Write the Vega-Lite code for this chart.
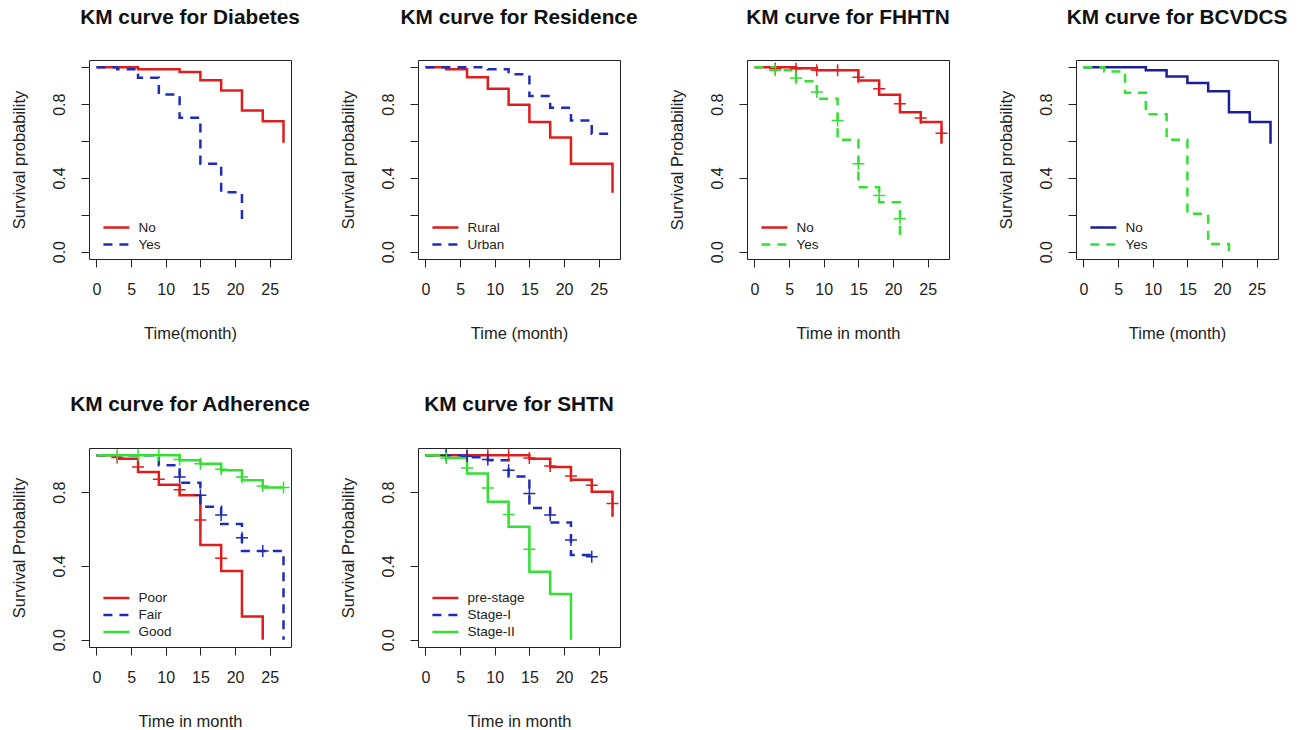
{
  "$schema": "https://vega.github.io/schema/vega-lite/v6.json",
  "background": "white",
  "padding": {"left": 11, "top": 6, "right": 5, "bottom": 3},
  "bounds": "flush",
  "columns": 4,
  "spacing": {"row": 189, "column": 127},
  "resolve": {
    "scale": {"x": "independent", "y": "independent", "color": "independent", "strokeDash": "independent", "stroke": "independent"},
    "legend": {"color": "independent", "strokeDash": "independent", "stroke": "independent"}
  },
  "config": {
    "view": {"stroke": "#222", "strokeWidth": 1},
    "font": "Liberation Sans",
    "title": {"font": "Liberation Sans", "fontSize": 20.8, "fontWeight": "bold", "anchor": "middle", "color": "#111", "frame": "group", "baseline": "alphabetic", "offset": 31},
    "axis": {"domain": false, "grid": false, "ticks": true, "tickSize": 8, "tickColor": "#222", "tickWidth": 1, "labelFont": "Liberation Sans", "labelFontSize": 16, "labelColor": "#222", "titleFont": "Liberation Sans", "titleFontSize": 16.5, "titleFontWeight": "normal", "titleColor": "#222"},
    "axisX": {"labelPadding": 14, "titlePadding": 28, "labelAngle": 0},
    "axisY": {"labelAngle": -90, "labelAlign": "center", "labelBaseline": "bottom", "labelPadding": 13.3, "titlePadding": 24},
    "legend": {"orient": "none", "legendX": 19.4, "padding": 0, "symbolType": "M-2,0H2", "symbolSize": 169, "symbolStrokeWidth": 2.5, "labelFont": "Liberation Sans", "labelFontSize": 13.5, "labelColor": "#222", "labelOffset": 14, "rowPadding": 2, "title": null}
  },
  "datasets": {
    "km": [
      {"p": "Diabetes", "g": "No", "t": 0, "s": 1},
      {"p": "Diabetes", "g": "No", "t": 6, "s": 0.99},
      {"p": "Diabetes", "g": "No", "t": 12, "s": 0.975},
      {"p": "Diabetes", "g": "No", "t": 15, "s": 0.93},
      {"p": "Diabetes", "g": "No", "t": 18, "s": 0.875},
      {"p": "Diabetes", "g": "No", "t": 21, "s": 0.766},
      {"p": "Diabetes", "g": "No", "t": 24, "s": 0.708},
      {"p": "Diabetes", "g": "No", "t": 27, "s": 0.591},
      {"p": "Diabetes", "g": "Yes", "t": 0, "s": 1},
      {"p": "Diabetes", "g": "Yes", "t": 3, "s": 0.99},
      {"p": "Diabetes", "g": "Yes", "t": 6, "s": 0.944},
      {"p": "Diabetes", "g": "Yes", "t": 9, "s": 0.853},
      {"p": "Diabetes", "g": "Yes", "t": 12, "s": 0.727},
      {"p": "Diabetes", "g": "Yes", "t": 15, "s": 0.477},
      {"p": "Diabetes", "g": "Yes", "t": 18, "s": 0.322},
      {"p": "Diabetes", "g": "Yes", "t": 21, "s": 0.159},
      {"p": "Residence", "g": "Rural", "t": 0, "s": 1},
      {"p": "Residence", "g": "Rural", "t": 3, "s": 0.99},
      {"p": "Residence", "g": "Rural", "t": 6, "s": 0.947},
      {"p": "Residence", "g": "Rural", "t": 9, "s": 0.884},
      {"p": "Residence", "g": "Rural", "t": 12, "s": 0.797},
      {"p": "Residence", "g": "Rural", "t": 15, "s": 0.703},
      {"p": "Residence", "g": "Rural", "t": 18, "s": 0.62},
      {"p": "Residence", "g": "Rural", "t": 21, "s": 0.477},
      {"p": "Residence", "g": "Rural", "t": 27, "s": 0.319},
      {"p": "Residence", "g": "Urban", "t": 0, "s": 1},
      {"p": "Residence", "g": "Urban", "t": 9, "s": 0.99},
      {"p": "Residence", "g": "Urban", "t": 12, "s": 0.962},
      {"p": "Residence", "g": "Urban", "t": 15, "s": 0.844},
      {"p": "Residence", "g": "Urban", "t": 18, "s": 0.781},
      {"p": "Residence", "g": "Urban", "t": 21, "s": 0.712},
      {"p": "Residence", "g": "Urban", "t": 24, "s": 0.64},
      {"p": "Residence", "g": "Urban", "t": 27, "s": 0.64},
      {"p": "FHHTN", "g": "No", "t": 0, "s": 1},
      {"p": "FHHTN", "g": "No", "t": 6, "s": 0.995},
      {"p": "FHHTN", "g": "No", "t": 9, "s": 0.984},
      {"p": "FHHTN", "g": "No", "t": 15, "s": 0.929},
      {"p": "FHHTN", "g": "No", "t": 18, "s": 0.851},
      {"p": "FHHTN", "g": "No", "t": 21, "s": 0.757},
      {"p": "FHHTN", "g": "No", "t": 24, "s": 0.703},
      {"p": "FHHTN", "g": "No", "t": 27, "s": 0.585},
      {"p": "FHHTN", "g": "Yes", "t": 0, "s": 1},
      {"p": "FHHTN", "g": "Yes", "t": 3, "s": 0.984},
      {"p": "FHHTN", "g": "Yes", "t": 6, "s": 0.924},
      {"p": "FHHTN", "g": "Yes", "t": 9, "s": 0.83},
      {"p": "FHHTN", "g": "Yes", "t": 12, "s": 0.607},
      {"p": "FHHTN", "g": "Yes", "t": 15, "s": 0.35},
      {"p": "FHHTN", "g": "Yes", "t": 18, "s": 0.268},
      {"p": "FHHTN", "g": "Yes", "t": 21, "s": 0.087},
      {"p": "BCVDCS", "g": "No", "t": 0, "s": 1},
      {"p": "BCVDCS", "g": "No", "t": 9, "s": 0.984},
      {"p": "BCVDCS", "g": "No", "t": 12, "s": 0.951},
      {"p": "BCVDCS", "g": "No", "t": 15, "s": 0.915},
      {"p": "BCVDCS", "g": "No", "t": 18, "s": 0.87},
      {"p": "BCVDCS", "g": "No", "t": 21, "s": 0.757},
      {"p": "BCVDCS", "g": "No", "t": 24, "s": 0.703},
      {"p": "BCVDCS", "g": "No", "t": 27, "s": 0.585},
      {"p": "BCVDCS", "g": "Yes", "t": 0, "s": 1},
      {"p": "BCVDCS", "g": "Yes", "t": 3, "s": 0.978},
      {"p": "BCVDCS", "g": "Yes", "t": 6, "s": 0.862},
      {"p": "BCVDCS", "g": "Yes", "t": 9, "s": 0.745},
      {"p": "BCVDCS", "g": "Yes", "t": 12, "s": 0.607},
      {"p": "BCVDCS", "g": "Yes", "t": 15, "s": 0.205},
      {"p": "BCVDCS", "g": "Yes", "t": 18, "s": 0.042},
      {"p": "BCVDCS", "g": "Yes", "t": 21, "s": 0.0},
      {"p": "Adherence", "g": "Poor", "t": 0, "s": 1},
      {"p": "Adherence", "g": "Poor", "t": 3, "s": 0.982},
      {"p": "Adherence", "g": "Poor", "t": 6, "s": 0.91},
      {"p": "Adherence", "g": "Poor", "t": 9, "s": 0.841},
      {"p": "Adherence", "g": "Poor", "t": 12, "s": 0.784},
      {"p": "Adherence", "g": "Poor", "t": 15, "s": 0.514},
      {"p": "Adherence", "g": "Poor", "t": 18, "s": 0.373},
      {"p": "Adherence", "g": "Poor", "t": 21, "s": 0.126},
      {"p": "Adherence", "g": "Poor", "t": 24, "s": 0.0},
      {"p": "Adherence", "g": "Fair", "t": 0, "s": 1},
      {"p": "Adherence", "g": "Fair", "t": 9, "s": 0.946},
      {"p": "Adherence", "g": "Fair", "t": 12, "s": 0.852},
      {"p": "Adherence", "g": "Fair", "t": 15, "s": 0.721},
      {"p": "Adherence", "g": "Fair", "t": 18, "s": 0.627},
      {"p": "Adherence", "g": "Fair", "t": 21, "s": 0.481},
      {"p": "Adherence", "g": "Fair", "t": 27, "s": 0.0},
      {"p": "Adherence", "g": "Good", "t": 0, "s": 1},
      {"p": "Adherence", "g": "Good", "t": 12, "s": 0.973},
      {"p": "Adherence", "g": "Good", "t": 15, "s": 0.955},
      {"p": "Adherence", "g": "Good", "t": 18, "s": 0.919},
      {"p": "Adherence", "g": "Good", "t": 21, "s": 0.865},
      {"p": "Adherence", "g": "Good", "t": 24, "s": 0.825},
      {"p": "Adherence", "g": "Good", "t": 27, "s": 0.825},
      {"p": "SHTN", "g": "pre-stage", "t": 0, "s": 1},
      {"p": "SHTN", "g": "pre-stage", "t": 15, "s": 0.982},
      {"p": "SHTN", "g": "pre-stage", "t": 18, "s": 0.937},
      {"p": "SHTN", "g": "pre-stage", "t": 21, "s": 0.868},
      {"p": "SHTN", "g": "pre-stage", "t": 24, "s": 0.802},
      {"p": "SHTN", "g": "pre-stage", "t": 27, "s": 0.667},
      {"p": "SHTN", "g": "Stage-I", "t": 0, "s": 1},
      {"p": "SHTN", "g": "Stage-I", "t": 6, "s": 0.99},
      {"p": "SHTN", "g": "Stage-I", "t": 9, "s": 0.973},
      {"p": "SHTN", "g": "Stage-I", "t": 12, "s": 0.886},
      {"p": "SHTN", "g": "Stage-I", "t": 15, "s": 0.715},
      {"p": "SHTN", "g": "Stage-I", "t": 18, "s": 0.636},
      {"p": "SHTN", "g": "Stage-I", "t": 21, "s": 0.459},
      {"p": "SHTN", "g": "Stage-I", "t": 24, "s": 0.459},
      {"p": "SHTN", "g": "Stage-II", "t": 0, "s": 1},
      {"p": "SHTN", "g": "Stage-II", "t": 3, "s": 0.986},
      {"p": "SHTN", "g": "Stage-II", "t": 6, "s": 0.901},
      {"p": "SHTN", "g": "Stage-II", "t": 9, "s": 0.748},
      {"p": "SHTN", "g": "Stage-II", "t": 12, "s": 0.613},
      {"p": "SHTN", "g": "Stage-II", "t": 15, "s": 0.369},
      {"p": "SHTN", "g": "Stage-II", "t": 18, "s": 0.247},
      {"p": "SHTN", "g": "Stage-II", "t": 21, "s": 0.0}
    ],
    "cens": [
      {"p": "FHHTN", "g": "No", "t": 3, "s": 0.993},
      {"p": "FHHTN", "g": "No", "t": 6, "s": 0.993},
      {"p": "FHHTN", "g": "No", "t": 9, "s": 0.984},
      {"p": "FHHTN", "g": "No", "t": 12, "s": 0.984},
      {"p": "FHHTN", "g": "No", "t": 15, "s": 0.947},
      {"p": "FHHTN", "g": "No", "t": 18, "s": 0.884},
      {"p": "FHHTN", "g": "No", "t": 21, "s": 0.803},
      {"p": "FHHTN", "g": "No", "t": 24, "s": 0.725},
      {"p": "FHHTN", "g": "No", "t": 27, "s": 0.643},
      {"p": "FHHTN", "g": "Yes", "t": 3, "s": 0.984},
      {"p": "FHHTN", "g": "Yes", "t": 6, "s": 0.942},
      {"p": "FHHTN", "g": "Yes", "t": 9, "s": 0.866},
      {"p": "FHHTN", "g": "Yes", "t": 12, "s": 0.712},
      {"p": "FHHTN", "g": "Yes", "t": 15, "s": 0.477},
      {"p": "FHHTN", "g": "Yes", "t": 18, "s": 0.304},
      {"p": "FHHTN", "g": "Yes", "t": 21, "s": 0.178},
      {"p": "Adherence", "g": "Poor", "t": 3, "s": 0.988},
      {"p": "Adherence", "g": "Poor", "t": 6, "s": 0.937},
      {"p": "Adherence", "g": "Poor", "t": 9, "s": 0.87},
      {"p": "Adherence", "g": "Poor", "t": 12, "s": 0.814},
      {"p": "Adherence", "g": "Poor", "t": 15, "s": 0.649},
      {"p": "Adherence", "g": "Poor", "t": 18, "s": 0.441},
      {"p": "Adherence", "g": "Fair", "t": 12, "s": 0.883},
      {"p": "Adherence", "g": "Fair", "t": 15, "s": 0.784},
      {"p": "Adherence", "g": "Fair", "t": 18, "s": 0.676},
      {"p": "Adherence", "g": "Fair", "t": 21, "s": 0.553},
      {"p": "Adherence", "g": "Fair", "t": 24, "s": 0.481},
      {"p": "Adherence", "g": "Good", "t": 3, "s": 1},
      {"p": "Adherence", "g": "Good", "t": 6, "s": 1},
      {"p": "Adherence", "g": "Good", "t": 9, "s": 1},
      {"p": "Adherence", "g": "Good", "t": 12, "s": 0.978},
      {"p": "Adherence", "g": "Good", "t": 15, "s": 0.955},
      {"p": "Adherence", "g": "Good", "t": 18, "s": 0.924},
      {"p": "Adherence", "g": "Good", "t": 21, "s": 0.883},
      {"p": "Adherence", "g": "Good", "t": 24, "s": 0.834},
      {"p": "Adherence", "g": "Good", "t": 27, "s": 0.825},
      {"p": "SHTN", "g": "pre-stage", "t": 3, "s": 1},
      {"p": "SHTN", "g": "pre-stage", "t": 6, "s": 1},
      {"p": "SHTN", "g": "pre-stage", "t": 9, "s": 1},
      {"p": "SHTN", "g": "pre-stage", "t": 12, "s": 1},
      {"p": "SHTN", "g": "pre-stage", "t": 15, "s": 0.986},
      {"p": "SHTN", "g": "pre-stage", "t": 18, "s": 0.942},
      {"p": "SHTN", "g": "pre-stage", "t": 21, "s": 0.888},
      {"p": "SHTN", "g": "pre-stage", "t": 24, "s": 0.838},
      {"p": "SHTN", "g": "pre-stage", "t": 27, "s": 0.739},
      {"p": "SHTN", "g": "Stage-I", "t": 3, "s": 1},
      {"p": "SHTN", "g": "Stage-I", "t": 6, "s": 0.995},
      {"p": "SHTN", "g": "Stage-I", "t": 9, "s": 0.978},
      {"p": "SHTN", "g": "Stage-I", "t": 12, "s": 0.919},
      {"p": "SHTN", "g": "Stage-I", "t": 15, "s": 0.793},
      {"p": "SHTN", "g": "Stage-I", "t": 18, "s": 0.676},
      {"p": "SHTN", "g": "Stage-I", "t": 21, "s": 0.541},
      {"p": "SHTN", "g": "Stage-I", "t": 24, "s": 0.45},
      {"p": "SHTN", "g": "Stage-II", "t": 3, "s": 0.986},
      {"p": "SHTN", "g": "Stage-II", "t": 6, "s": 0.932},
      {"p": "SHTN", "g": "Stage-II", "t": 9, "s": 0.823},
      {"p": "SHTN", "g": "Stage-II", "t": 12, "s": 0.679},
      {"p": "SHTN", "g": "Stage-II", "t": 15, "s": 0.49}
    ]
  },
  "concat": [
    {
      "width": 202, "height": 199,
      "title": {"text": "KM curve for Diabetes"},
      "data": {"name": "km"},
      "transform": [{"filter": "datum.p == 'Diabetes'"}],
      "mark": {"type": "line", "interpolate": "step-after", "strokeWidth": 2.5},
      "encoding": {
        "x": {"field": "t", "type": "quantitative", "scale": {"domain": [-1.08, 28.08], "nice": false, "zero": false}, "axis": {"title": "Time(month)", "values": [0, 5, 10, 15, 20, 25]}},
        "y": {"field": "s", "type": "quantitative", "scale": {"domain": [-0.04, 1.04], "nice": false, "zero": false}, "axis": {"title": "Survival probability", "values": [0, 0.2, 0.4, 0.6, 0.8, 1], "labelExpr": "(abs(datum.value) < 0.01 || abs(datum.value - 0.4) < 0.01 || abs(datum.value - 0.8) < 0.01) ? format(datum.value, '.1f') : ''"}},
        "color": {"field": "g", "type": "nominal", "scale": {"domain": ["No", "Yes"], "range": ["#e01c1c", "#1f2db5"]}, "legend": {"title": null, "legendY": 159.5}},
        "strokeDash": {"field": "g", "type": "nominal", "scale": {"domain": ["No", "Yes"], "range": [[1, 0], [9, 7]]}, "legend": {"title": null, "legendY": 159.5}}
      }
    },
    {
      "width": 202, "height": 199,
      "title": {"text": "KM curve for Residence"},
      "data": {"name": "km"},
      "transform": [{"filter": "datum.p == 'Residence'"}],
      "mark": {"type": "line", "interpolate": "step-after", "strokeWidth": 2.5},
      "encoding": {
        "x": {"field": "t", "type": "quantitative", "scale": {"domain": [-1.08, 28.08], "nice": false, "zero": false}, "axis": {"title": "Time (month)", "values": [0, 5, 10, 15, 20, 25]}},
        "y": {"field": "s", "type": "quantitative", "scale": {"domain": [-0.04, 1.04], "nice": false, "zero": false}, "axis": {"title": "Survival probability", "values": [0, 0.2, 0.4, 0.6, 0.8, 1], "labelExpr": "(abs(datum.value) < 0.01 || abs(datum.value - 0.4) < 0.01 || abs(datum.value - 0.8) < 0.01) ? format(datum.value, '.1f') : ''"}},
        "color": {"field": "g", "type": "nominal", "scale": {"domain": ["Rural", "Urban"], "range": ["#e01c1c", "#1f2db5"]}, "legend": {"title": null, "legendY": 159.5}},
        "strokeDash": {"field": "g", "type": "nominal", "scale": {"domain": ["Rural", "Urban"], "range": [[1, 0], [9, 7]]}, "legend": {"title": null, "legendY": 159.5}}
      }
    },
    {
      "width": 202, "height": 199,
      "title": {"text": "KM curve for FHHTN"},
      "layer": [
        {
          "data": {"name": "km"},
          "transform": [{"filter": "datum.p == 'FHHTN'"}],
          "mark": {"type": "line", "interpolate": "step-after", "strokeWidth": 2.5},
          "encoding": {
            "x": {"field": "t", "type": "quantitative", "scale": {"domain": [-1.08, 28.08], "nice": false, "zero": false}, "axis": {"title": "Time in month", "values": [0, 5, 10, 15, 20, 25]}},
            "y": {"field": "s", "type": "quantitative", "scale": {"domain": [-0.04, 1.04], "nice": false, "zero": false}, "axis": {"title": "Survival Probability", "values": [0, 0.2, 0.4, 0.6, 0.8, 1], "labelExpr": "(abs(datum.value) < 0.01 || abs(datum.value - 0.4) < 0.01 || abs(datum.value - 0.8) < 0.01) ? format(datum.value, '.1f') : ''"}},
            "color": {"field": "g", "type": "nominal", "scale": {"domain": ["No", "Yes"], "range": ["#e01c1c", "#33e033"]}, "legend": {"title": null, "legendY": 159.5}},
            "strokeDash": {"field": "g", "type": "nominal", "scale": {"domain": ["No", "Yes"], "range": [[1, 0], [9, 7]]}, "legend": {"title": null, "legendY": 159.5}}
          }
        },
        {
          "data": {"name": "cens"},
          "transform": [{"filter": "datum.p == 'FHHTN'"}],
          "mark": {"type": "point", "shape": "M-1,0H1M0,-1V1", "size": 144, "strokeWidth": 1.5, "filled": false, "opacity": 1},
          "encoding": {
            "x": {"field": "t", "type": "quantitative"},
            "y": {"field": "s", "type": "quantitative"},
            "stroke": {"field": "g", "type": "nominal", "scale": {"domain": ["No", "Yes"], "range": ["#e01c1c", "#33e033"]}, "legend": null}
          }
        }
      ]
    },
    {
      "width": 202, "height": 199,
      "title": {"text": "KM curve for BCVDCS"},
      "data": {"name": "km"},
      "transform": [{"filter": "datum.p == 'BCVDCS'"}],
      "mark": {"type": "line", "interpolate": "step-after", "strokeWidth": 2.5},
      "encoding": {
        "x": {"field": "t", "type": "quantitative", "scale": {"domain": [-1.08, 28.08], "nice": false, "zero": false}, "axis": {"title": "Time (month)", "values": [0, 5, 10, 15, 20, 25]}},
        "y": {"field": "s", "type": "quantitative", "scale": {"domain": [-0.04, 1.04], "nice": false, "zero": false}, "axis": {"title": "Survival probability", "values": [0, 0.2, 0.4, 0.6, 0.8, 1], "labelExpr": "(abs(datum.value) < 0.01 || abs(datum.value - 0.4) < 0.01 || abs(datum.value - 0.8) < 0.01) ? format(datum.value, '.1f') : ''"}},
        "color": {"field": "g", "type": "nominal", "scale": {"domain": ["No", "Yes"], "range": ["#1a1f96", "#33e033"]}, "legend": {"title": null, "legendY": 159.5}},
        "strokeDash": {"field": "g", "type": "nominal", "scale": {"domain": ["No", "Yes"], "range": [[1, 0], [9, 7]]}, "legend": {"title": null, "legendY": 159.5}}
      }
    },
    {
      "width": 202, "height": 199,
      "title": {"text": "KM curve for Adherence"},
      "layer": [
        {
          "data": {"name": "km"},
          "transform": [{"filter": "datum.p == 'Adherence'"}],
          "mark": {"type": "line", "interpolate": "step-after", "strokeWidth": 2.5},
          "encoding": {
            "x": {"field": "t", "type": "quantitative", "scale": {"domain": [-1.08, 28.08], "nice": false, "zero": false}, "axis": {"title": "Time in month", "values": [0, 5, 10, 15, 20, 25]}},
            "y": {"field": "s", "type": "quantitative", "scale": {"domain": [-0.04, 1.04], "nice": false, "zero": false}, "axis": {"title": "Survival Probability", "values": [0, 0.2, 0.4, 0.6, 0.8, 1], "labelExpr": "(abs(datum.value) < 0.01 || abs(datum.value - 0.4) < 0.01 || abs(datum.value - 0.8) < 0.01) ? format(datum.value, '.1f') : ''"}},
            "color": {"field": "g", "type": "nominal", "scale": {"domain": ["Poor", "Fair", "Good"], "range": ["#e01c1c", "#1f2db5", "#33e033"]}, "legend": {"title": null, "legendY": 142}},
            "strokeDash": {"field": "g", "type": "nominal", "scale": {"domain": ["Poor", "Fair", "Good"], "range": [[1, 0], [9, 7], [1, 0]]}, "legend": {"title": null, "legendY": 142}}
          }
        },
        {
          "data": {"name": "cens"},
          "transform": [{"filter": "datum.p == 'Adherence'"}],
          "mark": {"type": "point", "shape": "M-1,0H1M0,-1V1", "size": 144, "strokeWidth": 1.5, "filled": false, "opacity": 1},
          "encoding": {
            "x": {"field": "t", "type": "quantitative"},
            "y": {"field": "s", "type": "quantitative"},
            "stroke": {"field": "g", "type": "nominal", "scale": {"domain": ["Poor", "Fair", "Good"], "range": ["#e01c1c", "#1f2db5", "#33e033"]}, "legend": null}
          }
        }
      ]
    },
    {
      "width": 202, "height": 199,
      "title": {"text": "KM curve for SHTN"},
      "layer": [
        {
          "data": {"name": "km"},
          "transform": [{"filter": "datum.p == 'SHTN'"}],
          "mark": {"type": "line", "interpolate": "step-after", "strokeWidth": 2.5},
          "encoding": {
            "x": {"field": "t", "type": "quantitative", "scale": {"domain": [-1.08, 28.08], "nice": false, "zero": false}, "axis": {"title": "Time in month", "values": [0, 5, 10, 15, 20, 25]}},
            "y": {"field": "s", "type": "quantitative", "scale": {"domain": [-0.04, 1.04], "nice": false, "zero": false}, "axis": {"title": "Survival Probability", "values": [0, 0.2, 0.4, 0.6, 0.8, 1], "labelExpr": "(abs(datum.value) < 0.01 || abs(datum.value - 0.4) < 0.01 || abs(datum.value - 0.8) < 0.01) ? format(datum.value, '.1f') : ''"}},
            "color": {"field": "g", "type": "nominal", "scale": {"domain": ["pre-stage", "Stage-I", "Stage-II"], "range": ["#e01c1c", "#1f2db5", "#33e033"]}, "legend": {"title": null, "legendY": 142}},
            "strokeDash": {"field": "g", "type": "nominal", "scale": {"domain": ["pre-stage", "Stage-I", "Stage-II"], "range": [[1, 0], [9, 7], [1, 0]]}, "legend": {"title": null, "legendY": 142}}
          }
        },
        {
          "data": {"name": "cens"},
          "transform": [{"filter": "datum.p == 'SHTN'"}],
          "mark": {"type": "point", "shape": "M-1,0H1M0,-1V1", "size": 144, "strokeWidth": 1.5, "filled": false, "opacity": 1},
          "encoding": {
            "x": {"field": "t", "type": "quantitative"},
            "y": {"field": "s", "type": "quantitative"},
            "stroke": {"field": "g", "type": "nominal", "scale": {"domain": ["pre-stage", "Stage-I", "Stage-II"], "range": ["#e01c1c", "#1f2db5", "#33e033"]}, "legend": null}
          }
        }
      ]
    }
  ]
}
